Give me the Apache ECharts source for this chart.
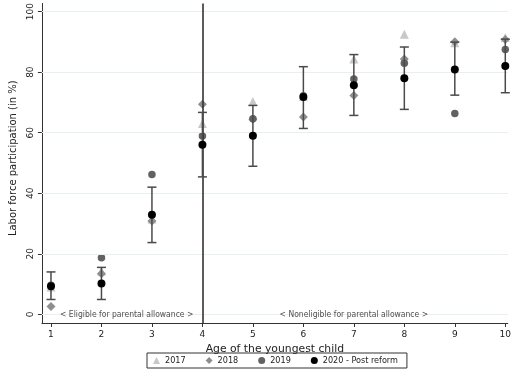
<!DOCTYPE html>
<html>
<head>
<meta charset="utf-8">
<script src="https://cdn.jsdelivr.net/npm/echarts@6/dist/echarts.min.js"></script>
<style>
  html, body { margin: 0; padding: 0; background: #fff; }
  #chart { width: 514px; height: 387px; }
</style>
</head>
<body>
<div id="chart"></div>
<script>
// Age of the youngest child (x axis categories)
const ages = [1, 2, 3, 4, 5, 6, 7, 8, 9, 10];
// Labor force participation (in %) by survey year
const v2017 = [9.0, 14.3, 31.5, 63.0, 70.3, 72.0, 84.3, 92.5, 89.7, 91.4];
const v2018 = [2.6, 13.4, 30.8, 69.4, 64.4, 65.2, 72.3, 84.3, 90.0, 90.8];
const v2019 = [9.6, 18.7, 46.2, 58.9, 64.6, 72.2, 77.7, 82.9, 66.3, 87.5];
const v2020 = [9.3, 10.2, 32.9, 56.0, 59.0, 71.8, 75.7, 78.0, 80.9, 82.0];
// Confidence interval for 2020
const ciLow  = [4.9, 4.9, 23.7, 45.4, 48.9, 61.4, 65.7, 67.7, 72.4, 73.2];
const ciHigh = [14.0, 15.5, 42.0, 66.7, 69.0, 81.8, 85.8, 88.3, 89.9, 90.9];
// Tick labels
const yTicks = [0, 20, 40, 60, 80, 100];
const xTicks = ages;

const FONT = 'DejaVu Sans';
const FONT_C = 'DejaVu Sans Condensed, DejaVu Sans';
const pairs = arr => ages.map((a, i) => [a, arr[i]]);

const chart = echarts.init(document.getElementById('chart'), null, { renderer: 'canvas' });

const option = {
  animation: false,
  backgroundColor: '#ffffff',
  grid: { left: 40, right: 4, top: 3, bottom: 64, containLabel: false },
  legend: {
    top: 353,
    left: 147,
    data: [
      { name: '2017', icon: 'triangle' },
      { name: '2018', icon: 'diamond' },
      { name: '2019', icon: 'circle' },
      { name: '2020 - Post reform', icon: 'circle' }
    ],
    itemWidth: 7,
    itemHeight: 7,
    itemGap: 20,
    borderColor: '#333',
    borderWidth: 1,
    borderRadius: 0,
    padding: [3, 9, 3, 6],
    textStyle: { fontFamily: FONT_C, fontSize: 9, color: '#222' }
  },
  xAxis: {
    type: 'value',
    min: 0.82,
    max: 10.05,
    name: 'Age of the youngest child',
    nameLocation: 'middle',
    nameGap: 18,
    nameTextStyle: { fontFamily: FONT, fontSize: 10.8, color: '#222' },
    axisLine: { show: true, onZero: false, lineStyle: { color: '#333', width: 1 } },
    axisTick: { show: true, length: 4, customValues: xTicks, lineStyle: { color: '#333' } },
    axisLabel: { customValues: xTicks, fontFamily: FONT, fontSize: 9, color: '#222', margin: 7 },
    splitLine: { show: false }
  },
  yAxis: {
    type: 'value',
    min: -2.87,
    max: 102.7,
    name: 'Labor force participation (in %)',
    nameLocation: 'middle',
    nameGap: 20,
    nameTextStyle: { fontFamily: FONT, fontSize: 10, color: '#222', padding: [0, 0, 0, 10] },
    axisLine: { show: true, onZero: false, lineStyle: { color: '#333', width: 1 } },
    axisTick: { show: true, length: 4, customValues: yTicks, lineStyle: { color: '#333' } },
    axisLabel: { customValues: yTicks, rotate: 90, fontFamily: FONT, fontSize: 9, color: '#222', margin: 7 },
    splitLine: { show: false }
  },
  series: [
    {
      // horizontal grid lines and the eligibility cut-off at age 4
      type: 'scatter',
      silent: true,
      data: [],
      markLine: {
        silent: true,
        symbol: 'none',
        label: { show: false },
        animation: false,
        data: yTicks.map(v => ({ yAxis: v, lineStyle: { color: '#e6eff1', width: 1, type: 'solid' } }))
          .concat([{ xAxis: 4, lineStyle: { color: '#333', width: 1.6, type: 'solid' } }])
      },
      z: 1
    },
    {
      name: '2017', type: 'scatter', symbol: 'triangle', symbolSize: 9,
      itemStyle: { color: '#c8c8c8', opacity: 1 }, data: pairs(v2017), z: 2
    },
    {
      name: '2018', type: 'scatter', symbol: 'diamond', symbolSize: 9,
      itemStyle: { color: '#8e8e8e', opacity: 1 }, data: pairs(v2018), z: 3
    },
    {
      name: '2019', type: 'scatter', symbol: 'circle', symbolSize: 7.5,
      itemStyle: { color: '#626262', opacity: 1 }, data: pairs(v2019), z: 4
    },
    {
      // 2020 confidence intervals with caps
      type: 'custom',
      silent: true,
      z: 5,
      data: ages.map((a, i) => [a, ciLow[i], ciHigh[i]]),
      renderItem: function (params, api) {
        const lo = api.coord([api.value(0), api.value(1)]);
        const hi = api.coord([api.value(0), api.value(2)]);
        const half = 4.5;
        const style = { stroke: '#4a4a4a', lineWidth: 1.5 };
        return {
          type: 'group',
          children: [
            { type: 'line', shape: { x1: lo[0], y1: lo[1], x2: hi[0], y2: hi[1] }, style: style },
            { type: 'line', shape: { x1: lo[0] - half, y1: lo[1], x2: lo[0] + half, y2: lo[1] }, style: style },
            { type: 'line', shape: { x1: hi[0] - half, y1: hi[1], x2: hi[0] + half, y2: hi[1] }, style: style }
          ]
        };
      }
    },
    {
      name: '2020 - Post reform', type: 'scatter', symbol: 'circle', symbolSize: 8,
      itemStyle: { color: '#000', opacity: 1 }, data: pairs(v2020), z: 6
    },
    {
      // eligibility annotations along the bottom
      type: 'scatter',
      silent: true,
      symbolSize: 0,
      z: 7,
      data: [
        { value: [2.5, 0], label: { formatter: '< Eligible for parental allowance >' } },
        { value: [7, 0], label: { formatter: '< Noneligible for parental allowance >' } }
      ],
      label: {
        show: true,
        position: 'inside',
        fontFamily: FONT_C,
        fontSize: 8.5,
        color: '#222'
      }
    }
  ]
};

chart.setOption(option);
</script>
</body>
</html>
